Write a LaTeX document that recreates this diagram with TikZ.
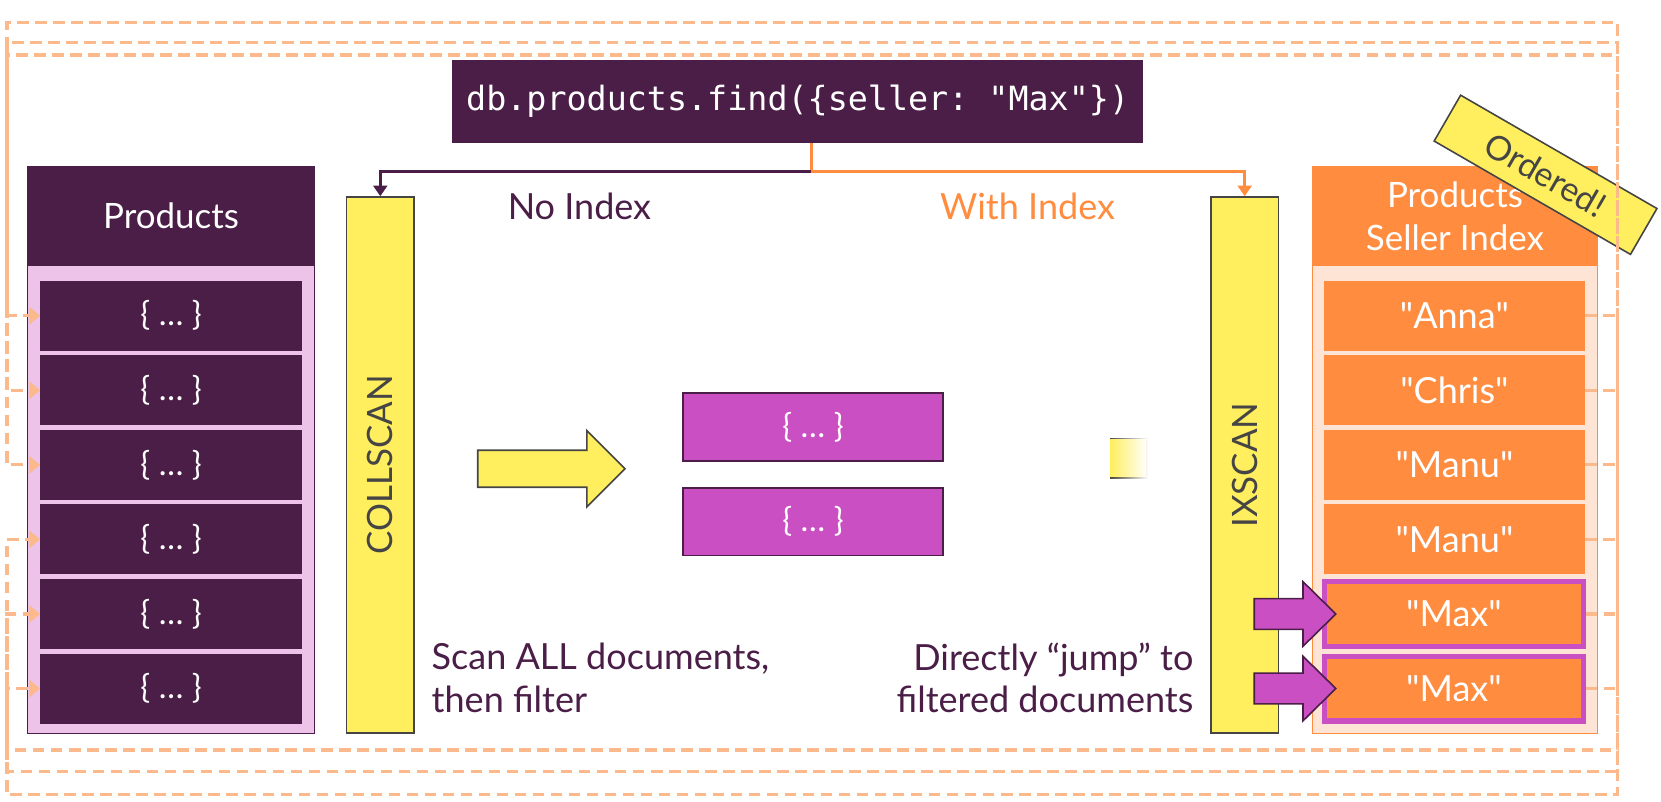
\documentclass[tikz,border=0pt]{standalone}
\usepackage{fontspec}
\setmainfont{Lato}
\setmonofont{DejaVu Sans Mono}
\usetikzlibrary{arrows.meta,calc,positioning,fadings}

\definecolor{mdbpurple}{HTML}{4A1E47}
\definecolor{mdbpink}{HTML}{EDC3EA}
\definecolor{mdborange}{HTML}{FF8C3F}
\definecolor{mdbpeach}{HTML}{FDE4D4}
\definecolor{mdbyellow}{HTML}{FFEE5E}
\definecolor{mdbmagenta}{HTML}{C94FC3}
\definecolor{ptrorange}{HTML}{FBB98C}
\definecolor{edgegray}{HTML}{454545}

\begin{document}
\begin{tikzpicture}[x=1pt,y=-1pt,
% rows of the collection
doc/.style={rectangle, inner sep=0pt,
 minimum width=247pt, minimum height=66pt,
 fill=mdbpurple, text=white,
 font=\fontsize{31}{34}\selectfont},
% rows of the index
entry/.style={rectangle, inner sep=0pt,
 minimum width=246pt, minimum height=66pt,
 fill=mdborange, text=white,
 font=\fontsize{34}{38}\selectfont},
hit/.style={entry, draw=mdbmagenta, line width=5pt,
 minimum width=244pt, minimum height=61pt},
% table frames and headers
frame/.style={rectangle, inner sep=0pt,
 minimum width=271pt, minimum height=535pt, line width=1pt},
head/.style={rectangle, inner sep=0pt, align=center,
 minimum width=271pt, minimum height=94pt, text=white,
 font=\fontsize{33}{40}\selectfont},
scanbar/.style={rectangle, inner sep=0pt,
 minimum width=64pt, minimum height=506pt,
 fill=mdbyellow, draw=edgegray, line width=1.5pt},
result/.style={rectangle, inner sep=0pt,
 minimum width=245pt, minimum height=64pt,
 fill=mdbmagenta, draw=mdbpurple, line width=1.5pt, text=white,
 font=\fontsize{31}{34}\selectfont},
label/.style={font=\fontsize{34}{40}\selectfont, text=mdbpurple},
% pointers from the index into the collection
ptr/.style={draw=ptrorange, line width=3pt, dash pattern=on 11pt off 6pt,
 -{Triangle[length=10pt,width=16pt]}},
branch/.style={line width=3pt, -{Triangle[length=10pt,width=13pt]}}]

\useasboundingbox (0,0) rectangle (1568,757);

% collection
\node (prodframe) [frame, fill=mdbpink, draw=mdbpurple] at (161.5,424.5) {};
\node (prodhead) [head, fill=mdbpurple] at (161.5,204) {Products};
\foreach \i in {1,...,6}
  \node (doc\i) [doc] at (161.5,{298+70.4*(\i-1)}) {\{ … \}};

% index
\node (ixframe) [frame, minimum width=269pt, fill=mdbpeach, draw=mdborange] at (1373.5,424.5) {};
\node (ixhead) [head, minimum width=269pt, fill=mdborange] at (1373.5,204) {Products\\Seller Index};
\foreach \i/\name in {1/Anna,2/Chris,3/Manu,4/Manu}
  \node (ix\i) [entry] at (1373,{298+70.4*(\i-1)}) {\textquotedbl\name\textquotedbl};
\foreach \i in {5,6}
  \node (ix\i) [hit] at (1372.5,{298+70.4*(\i-1)}) {\textquotedbl Max\textquotedbl};

% scans
\node (collscan) [scanbar] at (359,439) {};
\node [rotate=90, font=\fontsize{33}{36}\selectfont, text=edgegray] at (collscan) {COLLSCAN};
\node (ixscan) [scanbar] at (1175,439) {};
\node [rotate=90, font=\fontsize{33}{36}\selectfont, text=edgegray] at (ixscan) {IXSCAN};

% query
\node (query) [rectangle, fill=mdbpurple, text=white, minimum width=652pt, minimum height=78pt,
 font=\ttfamily\fontsize{31.5}{36}\selectfont] at (753,96)
 {db.products.find(\{seller: \textquotedbl Max\textquotedbl\})};
\coordinate (split) at (766,162);
\draw [line width=3pt, mdborange] (query.south -| split) -- (split);
\draw [branch, mdbpurple] (split) -| (collscan.north);
\draw [branch, mdborange] (split) -| (ixscan.north);
\node (noindex) [label] at (547,195) {No Index};
\node (withindex) [label, text=mdborange] at (970,195) {With Index};

% collection scan
\draw [fill=mdbyellow, draw=edgegray, line width=1.5pt]
  (451,425) -- (554,425) -- (554,406.5) -- (590,442.5) -- (554,478.5) -- (554,460) -- (451,460) -- cycle;
\node (res1) [result] at (767.5,403) {\{ … \}};
\node (res2) [result] at (767.5,492.5) {\{ … \}};
\fill [mdbyellow, path fading=east] (1048,414) rectangle (1083,451);
\draw [edgegray, line width=1.5pt, path fading=east] (1048,414) -- (1083,414) -- (1083,451) -- (1048,451);

\node (scanall) [label, anchor=west, align=left] at (404,640) {Scan ALL documents,\\then filter};
\node (jump) [label, anchor=east, align=right] at (1130,640) {Directly “jump” to\\filtered documents};

% index hits
\foreach \n in {ix5,ix6}
  \draw [fill=mdbmagenta, draw=mdbpurple, line width=1.5pt]
    ($(\n.west)+(-64,-14.5)$) -- ++(46,0) -- ++(0,-16) -- ++(31,30.5)
    -- ++(-31,30.5) -- ++(0,-16) -- ++(-46,0) -- cycle;

\node (ordered) [rectangle, rotate=-30, fill=mdbyellow, draw=edgegray, line width=1.5pt,
 minimum width=214pt, minimum height=50pt, text=edgegray,
 font=\fontsize{32}{36}\selectfont] at (1459,165) {Ordered!};

% pointers
\coordinate (rt1) at (1527,21);
\coordinate (rt2) at (1527,40);
\coordinate (rt3) at (1527,52);
\coordinate (rb1) at (1527,708);
\coordinate (rb2) at (1527,728);
\coordinate (rb3) at (1527,750);
\coordinate (lt1) at (6.6,21);
\coordinate (lt2) at (6.6,40);
\coordinate (lt3) at (6.6,52);
\coordinate (lb1) at (6.6,708);
\coordinate (lb2) at (6.6,728);
\coordinate (lb3) at (6.6,750);
\draw [ptr] (ix6.east) -| (rt1) -- (lt1) |- (doc3.west);
\draw [ptr] (ix5.east) -| (rt2) -- (lt2) |- (doc1.west);
\draw [ptr] (ix4.east) -| (rt3) -- (lt3) |- (doc2.west);
\draw [ptr] (ix3.east) -| (rb1) -- (lb1) |- (doc6.west);
\draw [ptr] (ix2.east) -| (rb2) -- (lb2) |- (doc5.west);
\draw [ptr] (ix1.east) -| (rb3) -- (lb3) |- (doc4.west);
\end{tikzpicture}
\end{document}
